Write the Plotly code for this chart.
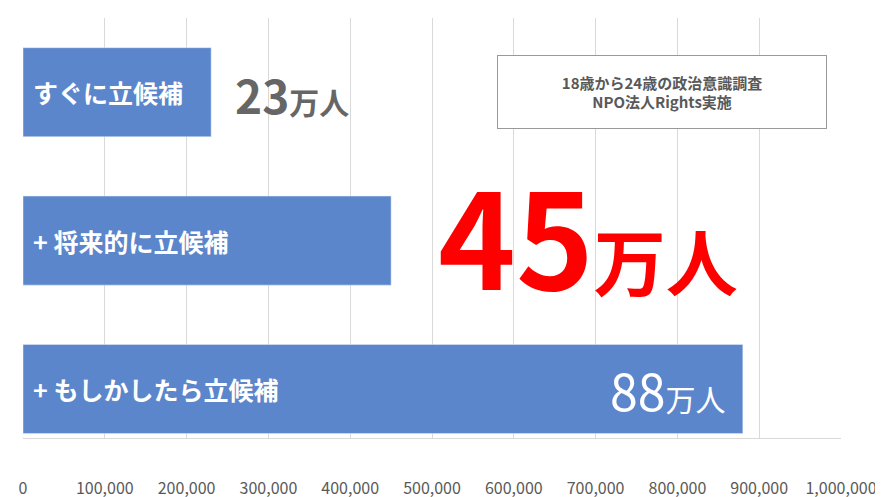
import plotly.graph_objects as go

# 候補者数 (人)
labels = ["+ もしかしたら立候補", "+ 将来的に立候補", "すぐに立候補"]
values = [880000, 450000, 230000]
tick_vals = [0, 100000, 200000, 300000, 400000, 500000, 600000, 700000, 800000, 900000, 1000000]
tick_text = ["0", "100,000", "200,000", "300,000", "400,000", "500,000", "600,000",
             "700,000", "800,000", "900,000", "1,000,000"]

FONT = "Noto Sans CJK JP"

fig = go.Figure()
fig.add_trace(go.Bar(
    x=values, y=[0, 1, 2], orientation="h", width=0.6,
    marker=dict(color="#5b86cc"), hoverinfo="skip",
))

# バー内ラベル
for i, lab in enumerate(labels):
    fig.add_annotation(x=0, y=i, xref="x", yref="y", text="<b>" + lab + "</b>", showarrow=False,
                       xanchor="left", xshift=8,
                       font=dict(family=FONT, size=25, color="white"))

# 数値ラベル
fig.add_annotation(x=values[2], y=2, text="<b><span style='font-size:46px'>23</span>万人</b>",
                   showarrow=False, xanchor="left", xshift=22, yshift=-2,
                   font=dict(family=FONT, size=30, color="#666666"))
fig.add_annotation(x=values[1], y=1, text="<b><span style='font-size:132px'>45</span>万人</b>",
                   showarrow=False, xanchor="left", xshift=45, yshift=8,
                   font=dict(family=FONT, size=72, color="#ff0000"))
fig.add_annotation(x=values[0], y=0, text="<span style='font-size:50px'>88</span>万人",
                   showarrow=False, xanchor="right", xshift=-15,
                   font=dict(family=FONT, size=30, color="white"))

# 出典ボックス
fig.add_annotation(x=781000, y=2, xref="x", yref="y",
                   text="<b>18歳から24歳の政治意識調査<br>NPO法人Rights実施</b>",
                   showarrow=False, width=326, height=70,
                   bordercolor="#999999", borderwidth=1, bgcolor="white",
                   font=dict(family=FONT, size=15, color="#595959"))

fig.update_layout(
    width=883, height=497, showlegend=False,
    plot_bgcolor="white", paper_bgcolor="white",
    margin=dict(l=15, r=50, t=10, b=67),
    xaxis=dict(range=[0, 1000000], tickvals=tick_vals, ticktext=tick_text,
               showgrid=True, gridcolor="#d9d9d9", zeroline=False,
               showline=True, linecolor="#d9d9d9", automargin=False,
               ticklabelstandoff=36,
               tickfont=dict(family=FONT, size=16, color="#595959")),
    yaxis=dict(range=[-0.33, 2.5], showticklabels=False, showgrid=False,
               zeroline=False, fixedrange=True, automargin=False),
    font=dict(family=FONT),
)

fig.write_html("out.html")
